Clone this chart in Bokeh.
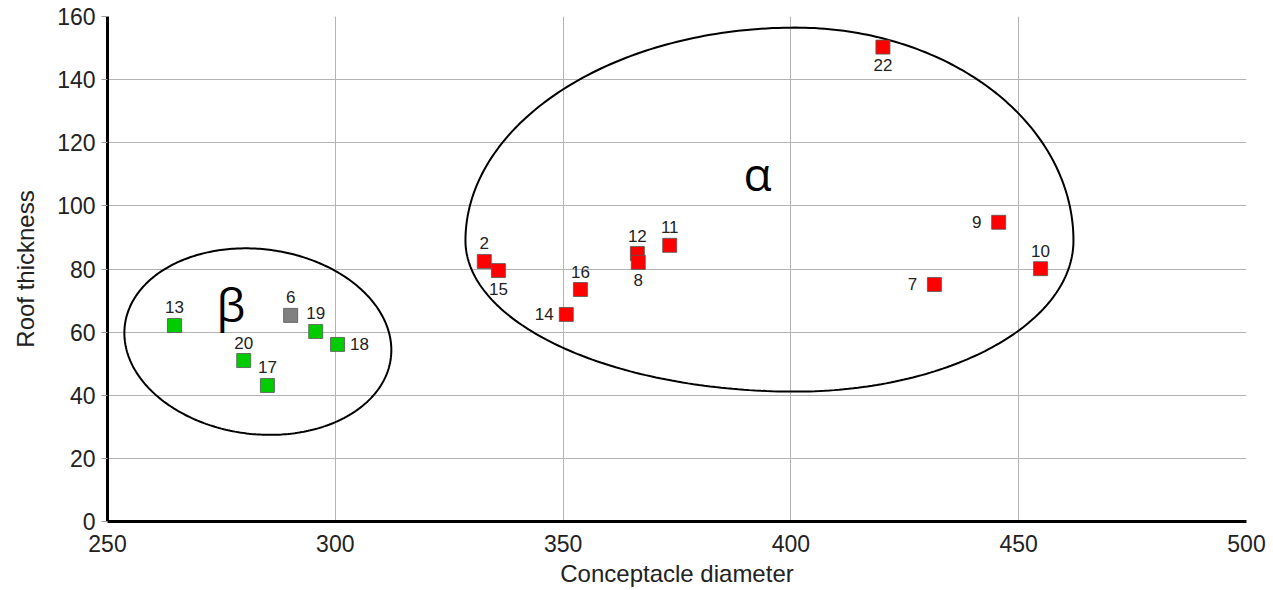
import numpy as np
from bokeh.plotting import figure
from bokeh.models import ColumnDataSource, FixedTicker, Range1d
from bokeh.embed import file_html
from bokeh.resources import INLINE
from bokeh.core.properties import value

# ---------------- data ----------------
labels = ["13", "20", "17", "6", "19", "18", "2", "15", "14", "16", "12", "8", "11", "22", "9", "7", "10"]
diameter = [264.7, 279.9, 285.1, 290.2, 295.7, 300.5, 332.7, 335.8, 350.7, 353.8, 366.3, 366.5, 373.4, 420.2, 445.6, 431.5, 454.8]
thickness = [62.1, 51.0, 43.1, 65.3, 60.2, 56.1, 82.4, 79.5, 65.6, 73.5, 84.9, 82.1, 87.5, 150.3, 94.8, 75.1, 80.1]
group = ["beta", "beta", "beta", "other", "beta", "beta",
         "alpha", "alpha", "alpha", "alpha", "alpha", "alpha", "alpha", "alpha", "alpha", "alpha", "alpha"]
label_side = ["above", "above", "above", "above", "above", "right", "above", "below", "left", "above",
              "above", "below", "above", "below", "left", "left", "above"]
x_ticks = [250, 300, 350, 400, 450, 500]
y_ticks = [0, 20, 40, 60, 80, 100, 120, 140, 160]

# ---------------- styles ----------------
group_color = {"alpha": "#ff0000", "beta": "#00cc00", "other": "#808080"}
side_offset = {"above": (0, -18), "below": (0, 18), "left": (-22, 0), "right": (22, 0)}

W, H = 1273, 590
BL, BR, BT, BB = 107, 27, 16, 69
X0, X1, Y0, Y1 = 250, 500, 0, 160
SX = (W - BL - BR) / (X1 - X0)   # px per x unit
SY = (H - BT - BB) / (Y1 - Y0)   # px per y unit

p = figure(width=W, height=H, output_backend="svg", toolbar_location=None,
           x_range=Range1d(X0, X1), y_range=Range1d(Y0, Y1),
           min_border_left=BL, min_border_right=BR, min_border_top=BT, min_border_bottom=BB)
p.outline_line_color = None
p.background_fill_color = "white"
p.border_fill_color = "white"

# grid
p.xgrid.ticker = FixedTicker(ticks=x_ticks[1:-1])
p.ygrid.ticker = FixedTicker(ticks=y_ticks[1:-1])
for g in (p.xgrid, p.ygrid):
    g.grid_line_color = "#b3b3b3"
    g.grid_line_width = 1

# axes
p.xaxis.ticker = FixedTicker(ticks=x_ticks)
p.yaxis.ticker = FixedTicker(ticks=y_ticks)
for ax in (p.xaxis, p.yaxis):
    ax.axis_line_color = "black"
    ax.axis_line_width = 3
    ax.minor_tick_line_color = None
    ax.major_label_text_font = "Liberation Sans"
    ax.major_label_text_font_size = "23px"
    ax.major_label_text_color = "#222222"
    ax.axis_label_text_font = "Liberation Sans"
    ax.axis_label_text_font_size = "24px"
    ax.axis_label_text_font_style = "normal"
    ax.axis_label_text_color = "#222222"
p.xaxis.major_tick_line_color = None
p.xaxis.major_tick_out = 0
p.xaxis.major_tick_in = 0
p.xaxis.major_label_standoff = 13
p.xaxis.axis_label_standoff = 5
p.yaxis.major_tick_line_color = "#999999"
p.yaxis.major_tick_out = 6
p.yaxis.major_tick_in = 0
p.yaxis.major_label_standoff = 6
p.yaxis.axis_label_standoff = 15
p.xaxis.axis_label = "Conceptacle diameter"
p.yaxis.axis_label = "Roof thickness"

# ---------------- group outlines (hand-drawn annotations) ----------------
t = np.linspace(0, 2 * np.pi, 361)

# beta: rotated ellipse, semi-axes in pixels around a data-space centre
b_cx, b_cy = 283.0, 57.0
b_a, b_b, b_rot = 134.0, 92.5, np.deg2rad(-7)
u = b_a * np.cos(t)
v = b_b * np.sin(t)
bx = b_cx + (u * np.cos(b_rot) - v * np.sin(b_rot)) / SX
by = b_cy + (u * np.sin(b_rot) + v * np.cos(b_rot)) / SY
p.line(bx, by, line_color="black", line_width=2)

# alpha: egg shape made of four quarter ellipses
a_cx, a_cy = 401.0, 89.0
rx_left, rx_right, ry_top, ry_bot = 330.0, 278.0, 213.0, 151.0
ct, st = np.cos(t), np.sin(t)
rx = np.where(ct >= 0, rx_right, rx_left)
ry = np.where(st >= 0, ry_top, ry_bot)
ax_ = a_cx + rx * ct / SX
ay_ = a_cy + ry * st / SY
p.line(ax_, ay_, line_color="black", line_width=2)

# ---------------- points ----------------
src = ColumnDataSource(dict(
    x=diameter, y=thickness, label=labels,
    color=[group_color[g] for g in group],
    dx=[side_offset[s][0] for s in label_side],
    dy=[side_offset[s][1] for s in label_side],
))
p.scatter("x", "y", source=src, marker="square", size=14,
          fill_color="color", line_color="#555555", line_width=0.8)
p.text("x", "y", text="label", source=src, x_offset="dx", y_offset="dy",
       text_align="center", text_baseline="middle",
       text_font=value("Liberation Sans"), text_font_size="17px", text_color="#222222")

# group letters
p.text(x=[392.7], y=[110.3], text=["α"], text_align="center", text_baseline="middle",
       text_font=value("Open Sans"), text_font_size="46px", text_color="black")
p.text(x=[277.1], y=[69.0], text=["β"], text_align="center", text_baseline="middle",
       text_font=value("Open Sans"), text_font_size="46px", text_color="black")

open("out.html", "w").write(file_html(p, INLINE))
